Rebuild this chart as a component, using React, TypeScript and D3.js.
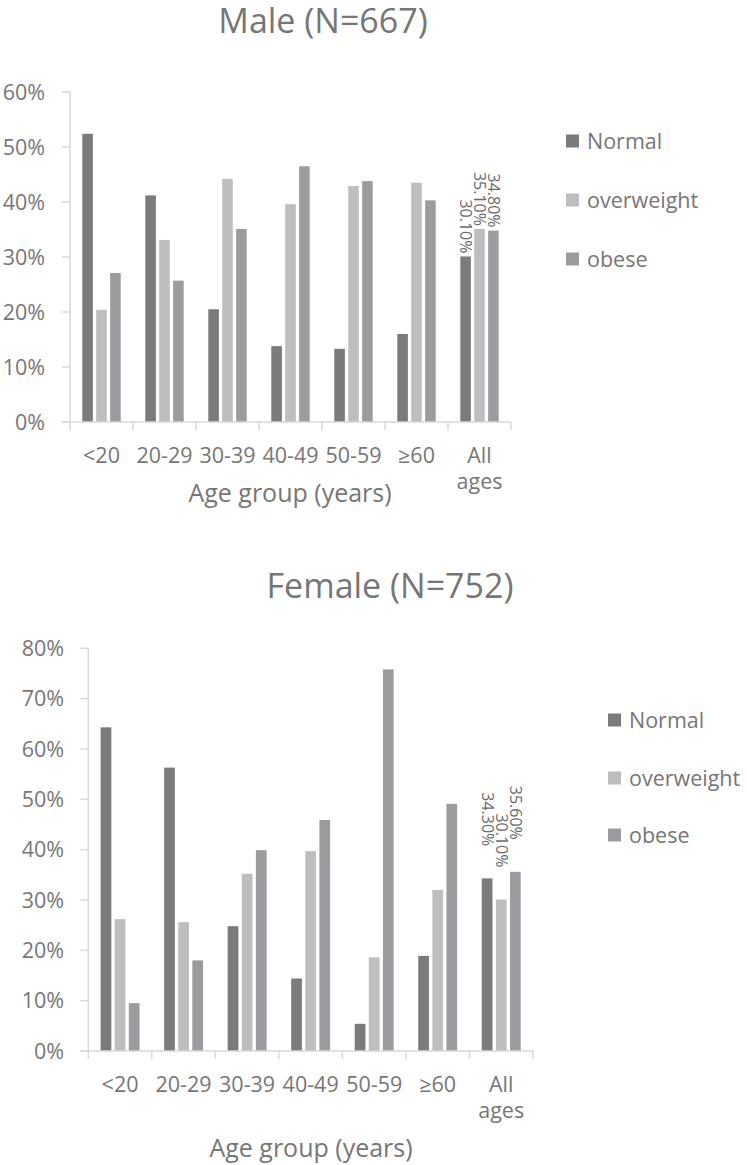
import React from "react";
import * as d3 from "d3";

const categories = ["<20", "20-29", "30-39", "40-49", "50-59", "≥60", "All ages"];
const seriesNames = ["Normal", "overweight", "obese"];
const seriesColors = ["#7a7b7d", "#bdbebf", "#9b9c9f"];

const maleNormal = [52.4, 41.2, 20.5, 13.8, 13.3, 16.0, 30.1];
const maleOverweight = [20.4, 33.1, 44.2, 39.6, 42.9, 43.5, 35.1];
const maleObese = [27.1, 25.7, 35.1, 46.5, 43.8, 40.3, 34.8];

const femaleNormal = [64.3, 56.3, 24.8, 14.4, 5.4, 18.9, 34.3];
const femaleOverweight = [26.2, 25.6, 35.2, 39.7, 18.6, 32.0, 30.1];
const femaleObese = [9.5, 18.0, 39.9, 45.9, 75.8, 49.1, 35.6];

const maleTicks = [0, 10, 20, 30, 40, 50, 60];
const femaleTicks = [0, 10, 20, 30, 40, 50, 60, 70, 80];

const FONT = "'Open Sans', 'Noto Sans', sans-serif";
const TEXT = "#767676";
const AXIS = "#d9d9d9";

type Layout = {
  title: string;
  titleX: number;
  titleY: number;
  left: number;
  right: number;
  top: number;
  base: number;
  yMax: number;
  ticks: number[];
  tickLabelX: number;
  catY: number;
  axisTitleX: number;
  axisTitleY: number;
  legendX: number;
  legendYs: number[];
  labelGap: number;
  values: number[][];
};

function Chart({ L }: { L: Layout }) {
  const x0 = d3.scaleBand<string>().domain(categories).range([L.left, L.right]).padding(0);
  const bw = x0.bandwidth();
  const x1 = d3
    .scaleBand<string>()
    .domain(seriesNames)
    .range([12.3, bw - 12.3])
    .paddingInner(0.24);
  const y = d3.scaleLinear().domain([0, L.yMax]).range([L.base, L.top]);
  const lastCat = categories[categories.length - 1];

  return (
    <g>
      <text x={L.titleX} y={L.titleY} textAnchor="middle" fontSize={34} fill={TEXT} fontFamily={FONT}>
        {L.title}
      </text>
      {/* y axis */}
      <line x1={L.left} x2={L.left} y1={y(L.yMax)} y2={L.base} stroke={AXIS} strokeWidth={1.5} />
      {L.ticks.map((t) => (
        <g key={t}>
          <line x1={L.left - 8} x2={L.left} y1={y(t)} y2={y(t)} stroke={AXIS} strokeWidth={1.5} />
          <text
            x={L.tickLabelX}
            y={y(t)}
            dy="0.36em"
            textAnchor="end"
            fontSize={21.5}
            fill={TEXT}
            fontFamily={FONT}
          >
            {t + "%"}
          </text>
        </g>
      ))}
      {/* bars */}
      {categories.map((c, ci) => (
        <g key={c} transform={`translate(${x0(c)},0)`}>
          {seriesNames.map((s, si) => {
            const v = L.values[si][ci];
            return (
              <rect
                key={s}
                x={x1(s)}
                y={y(v)}
                width={x1.bandwidth()}
                height={L.base - y(v)}
                fill={seriesColors[si]}
              />
            );
          })}
          {c === lastCat &&
            seriesNames.map((s, si) => {
              const v = L.values[si][ci];
              const cx = (x1(s) as number) + x1.bandwidth() / 2;
              const yy = y(v) - L.labelGap;
              return (
                <text
                  key={"l" + s}
                  transform={`translate(${cx},${yy}) rotate(90)`}
                  textAnchor="end"
                  dy="0.35em"
                  fontSize={16}
                  fill="#6a6a6a"
                  fontFamily={FONT}
                >
                  {v.toFixed(2) + "%"}
                </text>
              );
            })}
        </g>
      ))}
      {/* x axis */}
      <line x1={L.left - 8} x2={L.right} y1={L.base} y2={L.base} stroke={AXIS} strokeWidth={1.5} />
      {[...categories.map((c) => x0(c) as number), L.right].map((xv, i) => (
        <line key={i} x1={xv} x2={xv} y1={L.base} y2={L.base + 8} stroke={AXIS} strokeWidth={1.5} />
      ))}
      {categories.map((c) => {
        const cx = (x0(c) as number) + bw / 2;
        const lines = c === lastCat ? c.split(" ") : [c];
        return (
          <g key={"c" + c}>
            {lines.map((ln, li) => (
              <text
                key={li}
                x={cx}
                y={L.catY + li * 26}
                textAnchor="middle"
                fontSize={21.5}
                fill={TEXT}
                fontFamily={FONT}
              >
                {ln}
              </text>
            ))}
          </g>
        );
      })}
      <text x={L.axisTitleX} y={L.axisTitleY} textAnchor="middle" fontSize={25} fill={TEXT} fontFamily={FONT}>
        Age group (years)
      </text>
      {/* legend */}
      {seriesNames.map((s, si) => (
        <g key={"lg" + s}>
          <rect x={L.legendX} y={L.legendYs[si] - 6.5} width={13} height={13} fill={seriesColors[si]} />
          <text
            x={L.legendX + 21}
            y={L.legendYs[si]}
            dy="0.35em"
            fontSize={21.5}
            fill={TEXT}
            fontFamily={FONT}
          >
            {s}
          </text>
        </g>
      ))}
    </g>
  );
}

const maleLayout: Layout = {
  title: "Male (N=667)",
  titleX: 323,
  titleY: 33,
  left: 70,
  right: 511,
  top: 92,
  base: 422,
  yMax: 60,
  ticks: maleTicks,
  tickLabelX: 45,
  catY: 463,
  axisTitleX: 290,
  axisTitleY: 502,
  legendX: 566,
  legendYs: [141, 200, 259],
  labelGap: 3,
  values: [maleNormal, maleOverweight, maleObese],
};

const femaleLayout: Layout = {
  title: "Female (N=752)",
  titleX: 390,
  titleY: 598,
  left: 88.3,
  right: 533,
  top: 648.3,
  base: 1051,
  yMax: 80,
  ticks: femaleTicks,
  tickLabelX: 64,
  catY: 1092,
  axisTitleX: 311,
  axisTitleY: 1157,
  legendX: 608,
  legendYs: [720, 778, 835],
  labelGap: 32,
  values: [femaleNormal, femaleOverweight, femaleObese],
};

export default function App() {
  return (
    <div style={{ position: "absolute", left: 0, top: 0 }}>
      <svg width={747} height={1165} style={{ display: "block", background: "#fff" }}>
        <Chart L={maleLayout} />
        <Chart L={femaleLayout} />
      </svg>
    </div>
  );
}
